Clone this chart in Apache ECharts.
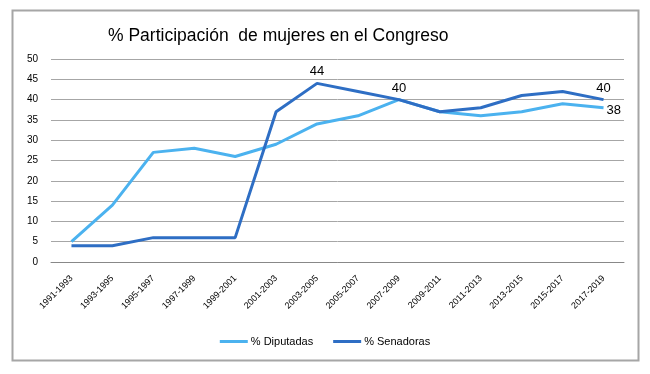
<!DOCTYPE html>
<html><head><meta charset="utf-8">
<script src="https://cdn.jsdelivr.net/npm/echarts@6/dist/echarts.min.js"></script>
<style>html,body{margin:0;padding:0;background:#fff}#c{width:650px;height:374px}</style>
</head><body><div id="c"></div>
<script>
const categories = ['1991-1993','1993-1995','1995-1997','1997-1999','1999-2001','2001-2003','2003-2005','2005-2007','2007-2009','2009-2011','2011-2013','2013-2015','2015-2017','2017-2019'];
const diputadas = [5,14,27,28,26,29,34,36,40,37,36,37,39,38];
const senadoras = [4,4,6,6,6,37,44,42,40,37,38,41,42,40];
const yTicks = [0,5,10,15,20,25,30,35,40,45,50];
const senLabelIdx = [6,8,13];
const dipLabelIdx = [13];

const chart = echarts.init(document.getElementById('c'), null, {renderer:'canvas'});
const font = 'Liberation Sans, Arial, sans-serif';
chart.setOption({
  animation:false,
  backgroundColor:'#fff',
  title:{text:'% Participación  de mujeres en el Congreso', left:103, top:22,
    textStyle:{fontFamily:font, fontSize:17.5, fontWeight:'normal', color:'#000'}},
  graphic:[{type:'rect', shape:{x:12.5,y:10.5,width:626,height:350}, style:{fill:'none', stroke:'#a6a6a6', lineWidth:2}, silent:true}],
  grid:{left:51, right:26, top:59, bottom:112, containLabel:false},
  legend:{bottom:22, left:'center', itemWidth:28, itemHeight:3, itemGap:20, icon:'rect',
    textStyle:{fontFamily:font, fontSize:11, color:'#000', padding:[0,0,0,-2]},
    data:['% Diputadas','% Senadoras']},
  xAxis:{type:'category', data:categories, boundaryGap:true,
    axisLine:{lineStyle:{color:'#888', width:1}}, axisTick:{show:false},
    axisLabel:{rotate:45, fontFamily:font, fontSize:9, color:'#000', interval:0, margin:15}},
  yAxis:{type:'value', min:0, max:50, interval:5,
    axisLine:{show:false}, axisTick:{show:false},
    splitLine:{lineStyle:{color:'#a6a6a6', width:1}},
    axisLabel:{fontFamily:font, fontSize:10, color:'#000', margin:13,
      formatter:v=>yTicks.includes(v)?String(v):''}},
  series:[
    {name:'% Diputadas', type:'line', data:diputadas.map((v,i)=>dipLabelIdx.includes(i)?{value:v,label:{show:true,position:'right',distance:3,offset:[0,3]}}:v),
      symbol:'circle', symbolSize:0.01, showSymbol:true, lineStyle:{color:'#4bb2ef', width:3}, itemStyle:{color:'#4bb2ef'},
      label:{show:false, fontFamily:font, fontSize:13, color:'#000'}, z:2},
    {name:'% Senadoras', type:'line', data:senadoras.map((v,i)=>senLabelIdx.includes(i)?{value:v,label:{show:true,position:'top',distance:5}}:v),
      symbol:'circle', symbolSize:0.01, showSymbol:true, lineStyle:{color:'#2e6ec4', width:3}, itemStyle:{color:'#2e6ec4'},
      label:{show:false, fontFamily:font, fontSize:13, color:'#000'}, z:3}
  ]
});
</script></body></html>
